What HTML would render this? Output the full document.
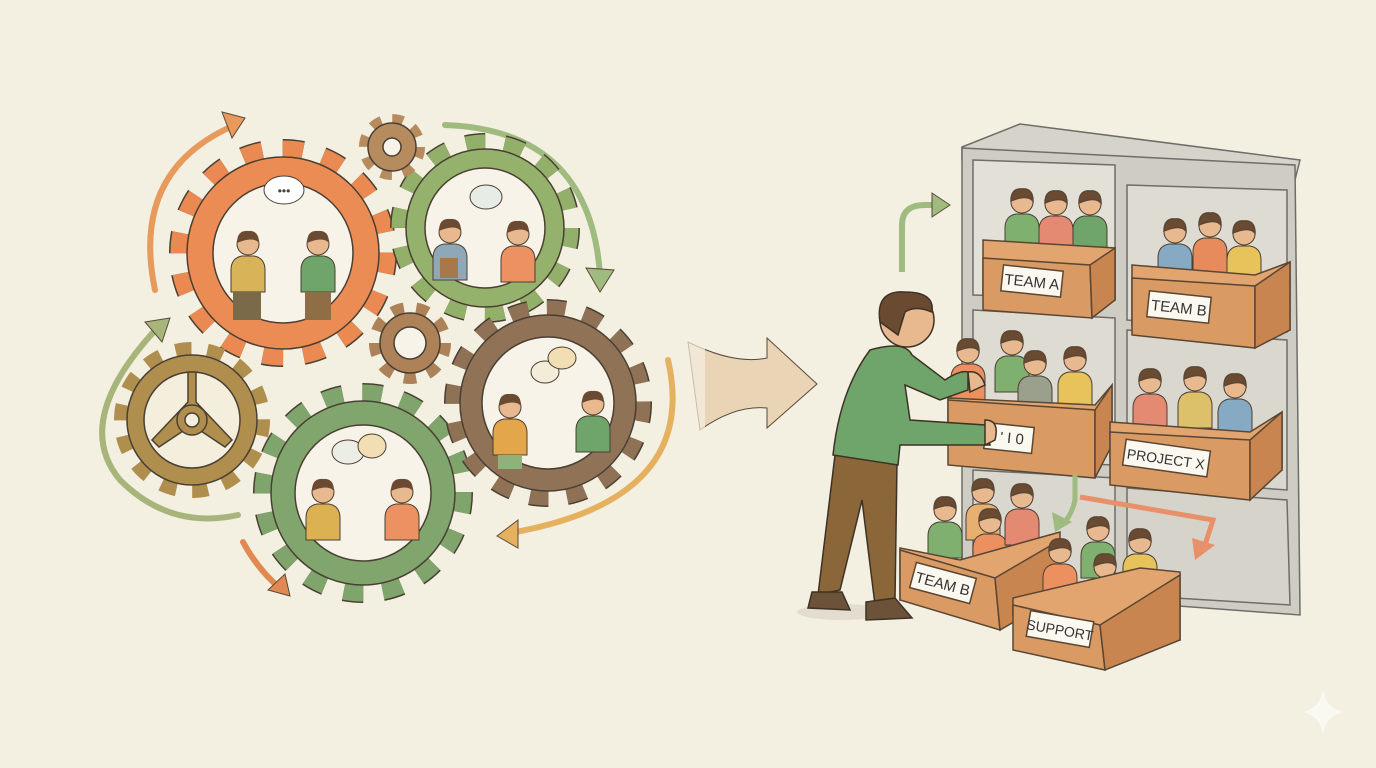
<!DOCTYPE html>
<html><head><meta charset="utf-8"><style>
html,body{margin:0;padding:0;background:#f3efe1;}
svg{display:block}
text{font-family:"Liberation Sans",sans-serif;stroke:none;}
</style></head><body>
<svg width="1376" height="768" viewBox="0 0 1376 768" xmlns="http://www.w3.org/2000/svg">
<defs>
<symbol id="p" overflow="visible">
  <path d="M-17,30 L-17,8 Q-17,-4 -6,-6 L6,-6 Q17,-4 17,8 L17,30 Z" fill="currentColor" stroke="#4a3f33" stroke-width="1"/>
  <circle cx="0" cy="-18" r="11" fill="#e8b98f" stroke="#4a3f33" stroke-width="1"/>
  <path d="M-11,-19 Q-11,-32 0,-31 Q11,-32 11,-19 Q5,-26 -11,-19Z" fill="#6b4a32"/>
</symbol>
</defs>
<rect width="1376" height="768" fill="#f3efe1"/>

<g fill="none" stroke-linecap="round">
<path d="M155,290 Q130,170 235,125" stroke="#e79a5c" stroke-width="6"/>
<path d="M445,125 Q590,130 600,275" stroke="#9fbb7f" stroke-width="6"/>
<path d="M160,325 Q70,420 120,480 Q170,530 238,515" stroke="#a8b57a" stroke-width="6"/>
<path d="M243,542 Q258,570 282,590" stroke="#e08a52" stroke-width="6"/>
<path d="M668,360 Q700,500 510,533" stroke="#e5b15e" stroke-width="6"/>
</g>
<polygon points="245,118 222,112 232,138" fill="#e79a5c" stroke="#5a4a3a" stroke-width="1"/>
<polygon points="600,292 586,268 614,270" fill="#9fbb7f" stroke="#5a4a3a" stroke-width="1"/>
<polygon points="170,318 145,322 162,342" fill="#a8b57a" stroke="#5a4a3a" stroke-width="1"/>
<polygon points="290,596 268,590 285,574" fill="#e08a52" stroke="#5a4a3a" stroke-width="1"/>
<polygon points="497,536 518,520 518,548" fill="#e5b15e" stroke="#5a4a3a" stroke-width="1"/>

<g stroke="#4a3f33" stroke-width="1.5">
<circle cx="283" cy="253" r="104" fill="none" stroke="#4a3f33" stroke-width="20" stroke-dasharray="20.4 20.4"/>
<circle cx="283" cy="253" r="104" fill="none" stroke="#ea8a52" stroke-width="17" stroke-dasharray="20.4 20.4"/>
<circle cx="283" cy="253" r="96" fill="#ec8c55"/>
<circle cx="283" cy="253" r="70" fill="#f7f3e8"/>
<circle cx="485" cy="228" r="86" fill="none" stroke="#4a3f33" stroke-width="18" stroke-dasharray="19.3 19.3"/>
<circle cx="485" cy="228" r="86" fill="none" stroke="#93b06a" stroke-width="15" stroke-dasharray="19.3 19.3"/>
<circle cx="485" cy="228" r="79" fill="#94b26c"/>
<circle cx="485" cy="228" r="60" fill="#f7f3e8"/>
<circle cx="392" cy="147" r="28" fill="none" stroke="#b68b5e" stroke-width="10" stroke-dasharray="11 11"/>
<circle cx="392" cy="147" r="24" fill="#b68b5e"/>
<circle cx="392" cy="147" r="9" fill="#f7f3e8"/>
<circle cx="410" cy="343" r="35" fill="none" stroke="#ad8259" stroke-width="12" stroke-dasharray="12.2 12.2"/>
<circle cx="410" cy="343" r="30" fill="#ad8259"/>
<circle cx="410" cy="343" r="16" fill="#f7f3e8"/>
<circle cx="192" cy="420" r="71" fill="none" stroke="#b08f4e" stroke-width="14" stroke-dasharray="15.9 15.9"/>
<circle cx="192" cy="420" r="65" fill="#b08f4e"/>
<circle cx="192" cy="420" r="48" fill="#f4eedd"/>
<path d="M188,372 L196,372 L196,402 L232,440 L225,447 L192,425 L159,447 L152,440 L188,402Z" fill="#b08f4e"/>
<circle cx="192" cy="420" r="15" fill="#b08f4e"/>
<circle cx="192" cy="420" r="7" fill="#f4eedd"/>
<circle cx="363" cy="493" r="100" fill="none" stroke="#4a3f33" stroke-width="20" stroke-dasharray="19.6 19.6"/>
<circle cx="363" cy="493" r="100" fill="none" stroke="#7fa46c" stroke-width="17" stroke-dasharray="19.6 19.6"/>
<circle cx="363" cy="493" r="92" fill="#80a56d"/>
<circle cx="363" cy="493" r="68" fill="#f7f3e8"/>
<circle cx="548" cy="403" r="95" fill="none" stroke="#4a3f33" stroke-width="18" stroke-dasharray="18.6 18.6"/>
<circle cx="548" cy="403" r="95" fill="none" stroke="#8f7256" stroke-width="15" stroke-dasharray="18.6 18.6"/>
<circle cx="548" cy="403" r="88" fill="#907357"/>
<circle cx="548" cy="403" r="66" fill="#f7f3e8"/>
</g>

<use href="#p" x="248" y="262" color="#d8b358"/>
<rect x="233" y="292" width="28" height="28" fill="#7a6a4a"/>
<use href="#p" x="318" y="262" color="#6fa56a"/>
<rect x="305" y="292" width="26" height="28" fill="#8f6d45"/>
<ellipse cx="284" cy="190" rx="20" ry="14" fill="#fff" stroke="#4a3f33"/>
<text x="284" y="195" font-size="12" text-anchor="middle" fill="#4a3f33">•••</text>
<use href="#p" x="450" y="250" color="#8fa8b8"/>
<rect x="440" y="258" width="18" height="20" fill="#a7794a"/>
<use href="#p" x="518" y="252" color="#ec9262"/>
<ellipse cx="486" cy="197" rx="16" ry="12" fill="#e8ece6" stroke="#4a3f33"/>
<use href="#p" x="510" y="425" color="#e4a64a"/>
<rect x="498" y="455" width="24" height="14" fill="#8fb27a"/>
<use href="#p" x="593" y="422" color="#6fa56a"/>
<ellipse cx="545" cy="372" rx="14" ry="11" fill="#f3ecd9" stroke="#4a3f33"/>
<ellipse cx="562" cy="358" rx="14" ry="11" fill="#f1dfb3" stroke="#4a3f33"/>
<use href="#p" x="323" y="510" color="#dcb152"/>
<use href="#p" x="402" y="510" color="#ec9262"/>
<ellipse cx="348" cy="452" rx="16" ry="12" fill="#eceee6" stroke="#4a3f33"/>
<ellipse cx="372" cy="446" rx="14" ry="12" fill="#f1dfb3" stroke="#4a3f33"/>

<path d="M688,342 Q735,365 767,358 L767,338 L817,384 L767,428 L767,408 Q735,405 700,430 Z" fill="#ead4b6" stroke="#5a4a3a" stroke-width="1"/>
<rect x="680" y="335" width="25" height="100" fill="#f3efe1" opacity="0.7"/>

<g stroke="#6f6d68" stroke-width="1.5">
<polygon points="962,147 1020,124 1300,160 1295,180 962,160" fill="#d6d3cb"/>
<polygon points="962,148 1295,165 1300,615 962,590" fill="#cfccc4"/>
<polygon points="973,160 1115,165 1115,300 973,295" fill="#e3e0d8"/>
<polygon points="1127,185 1287,190 1287,332 1127,320" fill="#dedbd3"/>
<polygon points="973,310 1115,318 1115,465 973,460" fill="#dedbd3"/>
<polygon points="1127,330 1287,340 1287,490 1127,478" fill="#dad7cf"/>
<polygon points="973,470 1115,478 1115,590 973,585" fill="#dad7cf"/>
<polygon points="1127,488 1287,500 1290,605 1127,595" fill="#d6d3cb"/>
</g>

<path d="M902,272 L902,225 Q902,205 925,205 L935,205" fill="none" stroke="#9fbb7f" stroke-width="6"/>
<polygon points="950,205 932,193 932,217" fill="#9fbb7f" stroke="#5a4a3a" stroke-width="1"/>

<g stroke="#5a4634" stroke-width="1.5">
<use href="#p" x="1022" y="220" color="#7fb06f"/>
<use href="#p" x="1056" y="222" color="#e58a72"/>
<use href="#p" x="1090" y="222" color="#6fa56a"/>
<polygon points="983,240 1115,248 1115,300 983,295" fill="#e3a56f"/>
<polygon points="983,258 1090,265 1092,318 983,310" fill="#d99a63"/>
<polygon points="1090,265 1115,248 1115,300 1092,318" fill="#c8854f"/>
<rect x="1002" y="268" width="60" height="26" fill="#fbf8f0" transform="rotate(6 1032 281)"/>
<text x="1032" y="287" font-size="15" text-anchor="middle" fill="#333" transform="rotate(6 1032 281)">TEAM A</text>

<use href="#p" x="1175" y="250" color="#86aac4"/>
<use href="#p" x="1210" y="244" color="#e78a5c"/>
<use href="#p" x="1244" y="252" color="#e8c25a"/>
<polygon points="1132,265 1255,275 1290,262 1290,330 1132,325" fill="#e3a56f"/>
<polygon points="1132,278 1255,286 1255,348 1132,335" fill="#d99a63"/>
<polygon points="1255,286 1290,262 1290,330 1255,348" fill="#c8854f"/>
<rect x="1148" y="294" width="62" height="26" fill="#fbf8f0" transform="rotate(6 1179 307)"/>
<text x="1179" y="313" font-size="15" text-anchor="middle" fill="#333" transform="rotate(6 1179 307)">TEAM B</text>

<use href="#p" x="968" y="370" color="#ec9060"/>
<use href="#p" x="1012" y="362" color="#7fb06f"/>
<use href="#p" x="1035" y="382" color="#9aa08c"/>
<use href="#p" x="1075" y="378" color="#e8c25a"/>
<polygon points="948,398 1095,405 1112,385 1112,445 948,440" fill="#e3a56f"/>
<polygon points="948,400 1095,410 1095,478 948,465" fill="#d99a63"/>
<polygon points="1095,410 1112,385 1112,445 1095,478" fill="#c8854f"/>
<rect x="985" y="425" width="48" height="26" fill="#fbf8f0" transform="rotate(6 1009 438)"/>
<text x="1012" y="443" font-size="15" text-anchor="middle" fill="#333" transform="rotate(6 1009 438)">' I 0</text>

<use href="#p" x="1150" y="400" color="#e58a72"/>
<use href="#p" x="1195" y="398" color="#dcc06a"/>
<use href="#p" x="1235" y="405" color="#86aac4"/>
<polygon points="1110,422 1250,432 1282,412 1282,470 1110,460" fill="#e3a56f"/>
<polygon points="1110,432 1250,440 1250,500 1110,485" fill="#d99a63"/>
<polygon points="1250,440 1282,412 1282,470 1250,500" fill="#c8854f"/>
<rect x="1124" y="445" width="85" height="26" fill="#fbf8f0" transform="rotate(8 1166 458)"/>
<text x="1166" y="464" font-size="14" text-anchor="middle" fill="#333" transform="rotate(8 1166 458)">PROJECT X</text>

<use href="#p" x="945" y="528" color="#7fb06f"/>
<use href="#p" x="983" y="510" color="#e8b070"/>
<use href="#p" x="990" y="540" color="#ec9060"/>
<use href="#p" x="1022" y="515" color="#e58a72"/>
<polygon points="900,548 960,560 1060,532 1060,590 900,600" fill="#e3a56f"/>
<polygon points="900,550 995,578 1000,630 900,600" fill="#d99a63"/>
<polygon points="995,578 1060,540 1060,595 1000,630" fill="#c8854f"/>
<rect x="912" y="570" width="62" height="26" fill="#fbf8f0" transform="rotate(15 943 583)"/>
<text x="943" y="589" font-size="15" text-anchor="middle" fill="#333" transform="rotate(15 943 583)">TEAM B</text>

<use href="#p" x="1060" y="570" color="#ec9060"/>
<use href="#p" x="1098" y="548" color="#7fb06f"/>
<use href="#p" x="1105" y="585" color="#e8b070"/>
<use href="#p" x="1140" y="560" color="#e8c25a"/>
<polygon points="1013,598 1140,568 1180,572 1180,640 1013,615" fill="#e3a56f"/>
<polygon points="1013,605 1100,625 1105,670 1013,650" fill="#d99a63"/>
<polygon points="1100,625 1180,575 1180,640 1105,670" fill="#c8854f"/>
<rect x="1028" y="616" width="64" height="26" fill="#fbf8f0" transform="rotate(10 1060 629)"/>
<text x="1060" y="635" font-size="14" text-anchor="middle" fill="#333" transform="rotate(10 1060 629)">SUPPORT</text>
</g>

<path d="M1075,475 L1075,500 Q1072,515 1062,525" fill="none" stroke="#9fbb7f" stroke-width="5"/>
<polygon points="1055,532 1052,512 1072,522" fill="#9fbb7f"/>
<path d="M1080,497 L1213,520 L1205,545" fill="none" stroke="#e8906a" stroke-width="5"/>
<polygon points="1195,560 1192,538 1215,545" fill="#e8906a"/>

<g stroke="#3d3226" stroke-width="1.5">
<ellipse cx="842" cy="612" rx="45" ry="8" fill="#e2ddcf" stroke="none"/>
<path d="M835,455 L897,462 L895,600 L875,605 L862,500 L840,590 L818,595 Z" fill="#8a6638"/>
<path d="M812,592 L842,592 L850,610 L808,608Z" fill="#6b5238"/>
<path d="M866,602 L895,598 L912,618 L866,620Z" fill="#6b5238"/>
<path d="M870,350 Q905,340 912,355 L945,380 Q960,370 968,372 L968,390 L940,400 L905,385 L910,420 L985,425 L990,445 L900,445 L898,465 L833,455 Q840,390 870,350Z" fill="#6fa56a"/>
<path d="M968,372 Q980,370 985,385 L970,392Z" fill="#e8b98f"/>
<path d="M985,420 Q1000,420 995,440 L985,445Z" fill="#e8b98f"/>
<circle cx="907" cy="320" r="27" fill="#e8b98f"/>
<path d="M880,322 Q875,290 905,292 Q935,292 932,312 Q915,305 905,312 L898,335 Z" fill="#6b4a32"/>
</g>

<path d="M1323,690 Q1326,708 1343,712 Q1326,716 1323,734 Q1320,716 1303,712 Q1320,708 1323,690Z" fill="#fbf9f3" opacity="0.9"/>
</svg>
</body></html>
